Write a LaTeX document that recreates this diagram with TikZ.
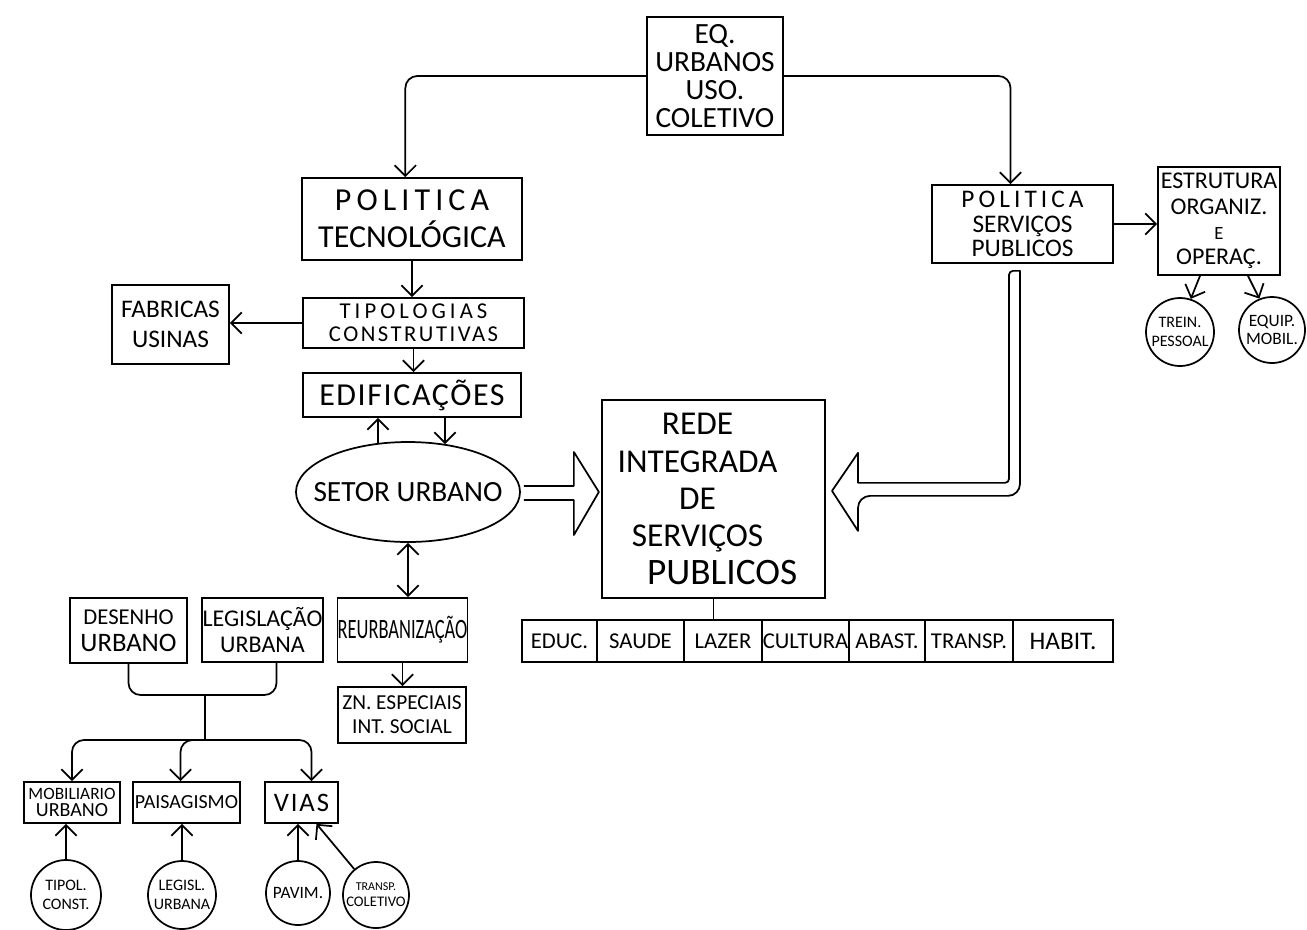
\documentclass[tikz,border=0pt]{standalone}
\usepackage{fontspec}
\setmainfont{Carlito}
\usepackage{graphicx}
\usetikzlibrary{arrows.meta,calc,shapes.geometric}
\newcommand\fz[2]{\fontsize{#1}{#2}\selectfont}
\newcommand\lsp[1]{\addfontfeature{LetterSpace=#1}}
\begin{document}
\begin{tikzpicture}[x=0.75pt,y=-0.75pt, line width=1.3pt,
  box/.style={draw, rectangle, inner sep=0pt, align=center},
  circ/.style={draw, circle, inner sep=0pt},
  lab/.style={align=center},
  arr/.style={-{Straight Barb[length=8pt,width=16pt]}},
  darr/.style={{Straight Barb[length=8pt,width=16pt]}-{Straight Barb[length=8pt,width=16pt]}},
  rc/.style={rounded corners=9pt},
  fat/.style={line join=round}]
\fill[white] (0,0) rectangle (1307,929);
\useasboundingbox (0,0) rectangle (1307,929);

% top
\node[box, minimum width=102pt, minimum height=88.5pt, font=\fz{22}{21}] (eq) at (715,76) {EQ.\\URBANOS\\USO.\\COLETIVO};

% left column
\node[box, minimum width=165pt, minimum height=61.5pt, font=\fz{24}{28}] (ptec) at (412,219) {{\lsp{16}POLITICA}\\TECNOLÓGICA};
\node[box, minimum width=165.75pt, minimum height=37.5pt, font=\fz{17}{17}] (tipo) at (413.5,323) {{\lsp{18}TIPOLOGIAS}\\{\lsp{11}CONSTRUTIVAS}};
\node[box, minimum width=87.75pt, minimum height=59.25pt, font=\fz{19}{22}] (fab) at (170.5,324.5) {FABRICAS\\USINAS};
\node[box, minimum width=163.5pt, minimum height=33pt, font=\fz{24}{24}] (edif) at (412,395) {{\lsp{5}EDIFICAÇÕES}};
\node[draw, ellipse, inner sep=0pt, minimum width=168pt, minimum height=75pt,
  label={[font=\fz{22}{22}]center:SETOR URBANO}] (setor) at (408,492) {};

% central
\node[box, minimum width=167.25pt, minimum height=148.5pt,
  label={[lab, font=\fz{25}{28}, xshift=-12pt]center:REDE\\INTEGRADA\\DE\\SERVIÇOS\\\hspace*{37pt}{\fz{28}{28}PUBLICOS}}] (rede) at (713.5,499) {};

\begin{scope}[every node/.style={box, minimum height=31.5pt, font=\fz{17}{17}}]
\node[minimum width=56.25pt] (educ) at (559.5,641) {EDUC.};
\node[minimum width=65.25pt] (saude) at (640.5,641) {SAUDE};
\node[minimum width=58.5pt] (lazer) at (723,641) {LAZER};
\node[minimum width=65.25pt] (cult) at (805.5,641) {CULTURA};
\node[minimum width=57pt] (abast) at (887,641) {ABAST.};
\node[minimum width=66pt] (transpb) at (969,641) {TRANSP.};
\node[minimum width=75pt, font=\fz{19}{19}] (habit) at (1063,641) {HABIT.};
\end{scope}

% right
\node[box, minimum width=135.75pt, minimum height=58.5pt, font=\fz{19}{18.5}] (pserv) at (1022.5,224) {{\lsp{16}POLITICA}\\SERVIÇOS\\PUBLICOS};
\node[box, minimum width=91.5pt, minimum height=81pt, font=\fz{18}{19}] (estr) at (1219,221) {ESTRUTURA\\ORGANIZ.\\{\fz{14}{13}E}\\OPERAÇ.};
\node[circ, minimum size=51pt, label={[lab, font=\fz{12}{14}]center:TREIN.\\PESSOAL}] (trein) at (1180,332) {};
\node[circ, minimum size=49.5pt, label={[lab, font=\fz{13}{14}]center:EQUIP.\\MOBIL.}] (equip) at (1272,330) {};

% bottom left
\node[box, minimum width=87.75pt, minimum height=48.75pt, font=\fz{20}{20}] (desenho) at (128.5,630.5) {{\fz{17}{20}DESENHO}\\URBANO};
\node[box, minimum width=90.75pt, minimum height=48pt, font=\fz{18}{20}] (legis) at (262.5,630) {LEGISLAÇÃO\\URBANA};
\node[box, minimum width=96.75pt, minimum height=48pt] (reurb) at (402.5,630) {\scalebox{0.66}[1]{\fz{21}{21}REURBANIZAÇÃO}};
\node[box, minimum width=96pt, minimum height=42pt, font=\fz{16}{18}] (zn) at (402,715) {ZN. ESPECIAIS\\INT. SOCIAL};
\node[box, minimum width=72pt, minimum height=30.75pt, font=\fz{15}{13}] (mob) at (72,802.5) {{\fz{13}{13}MOBILIARIO}\\URBANO};
\node[box, minimum width=80.25pt, minimum height=30.75pt, font=\fz{15}{15}] (pais) at (186.5,802.5) {PAISAGISMO};
\node[box, minimum width=54.75pt, minimum height=30.75pt, font=\fz{20}{20}] (vias) at (301.5,802.5) {{\lsp{7}VIAS}};
\node[circ, minimum size=52.5pt, label={[lab, font=\fz{12}{14}]center:TIPOL.\\CONST.}] (tipol) at (66,895) {};
\node[circ, minimum size=51pt, label={[lab, font=\fz{12}{14}]center:LEGISL.\\URBANA}] (legisl) at (182,895) {};
\node[circ, minimum size=48pt, label={[lab, font=\fz{13}{14}]center:PAVIM.}] (pavim) at (298,893) {};
\node[circ, minimum size=49.5pt, label={[lab, font=\fz{11}{12}]center:{\fz{9}{12}TRANSP.}\\COLETIVO}] (transp) at (376,895) {};

% connectors
\draw[arr, rc] (eq.west) -| ([xshift=-5pt]ptec.north);
\draw[arr, rc] (eq.east) -| ([xshift=-9pt]pserv.north);
\draw[arr] (ptec.south) -- (tipo.north -| ptec.south);
\draw[arr] (tipo.west) -- (tipo.west -| fab.east);
\draw[arr] (tipo.south) -- (edif.north -| tipo.south);
\draw[arr] ($(setor.north)+(-30,2)$) -- ($(edif.south)+(-34,0)$);
\draw[arr] ($(edif.south)+(33,0)$) -- ($(setor.north)+(37,3)$);
\draw[darr] (setor.south) -- (setor.south |- reurb.north);
\draw[arr] (reurb.south) -- (zn.north -| reurb.south);
\draw (rede.south) -- (rede.south |- lazer.north);
\draw[arr] (pserv.east) -- (pserv.east -| estr.west);
\draw[arr] ($(estr.south)+(-19,0)$) -- (trein.72);
\draw[arr] ($(estr.south)+(29,0)$) -- (equip.112);

\coordinate (j1) at (205,695);
\coordinate (j2) at (205,740);
\draw[rc] (desenho.south) |- (j1) -| ($(legis.south)+(14,0)$);
\draw (j1) -- (j2);
\draw[arr, rc] (j2) -| (mob.north);
\draw[arr, rc] (j2) -| ($(pais.north)+(-6,0)$);
\draw[arr, rc] (j2) -| ($(vias.north)+(10,0)$);

\draw[arr] (tipol.north) -- (tipol.north |- mob.south);
\draw[arr] (legisl.north) -- (legisl.north |- pais.south);
\draw[arr] (pavim.north) -- (pavim.north |- vias.south);
\draw[arr] (transp.130) -- ($(vias.south)+(15,0)$);

% fat arrows
\draw[fat] ($(setor.east)+(3,-6)$) -- ++(50,0) -- ++(0,-34) -- ++(25,40) -- ++(-25,43) -- ++(0,-35) -- ++(-50,0);
\draw[fat] ($(pserv.south)+(-13.5,7)$) -- ++(11,0) [rounded corners=9pt] -- ++(0,225) -- ++(-162,0) [sharp corners] -- ++(0,35) -- ++(-26,-40) -- ++(26,-38) -- ++(0,30) [rounded corners=3pt] -- ++(151,0) -- cycle;
\end{tikzpicture}
\end{document}
